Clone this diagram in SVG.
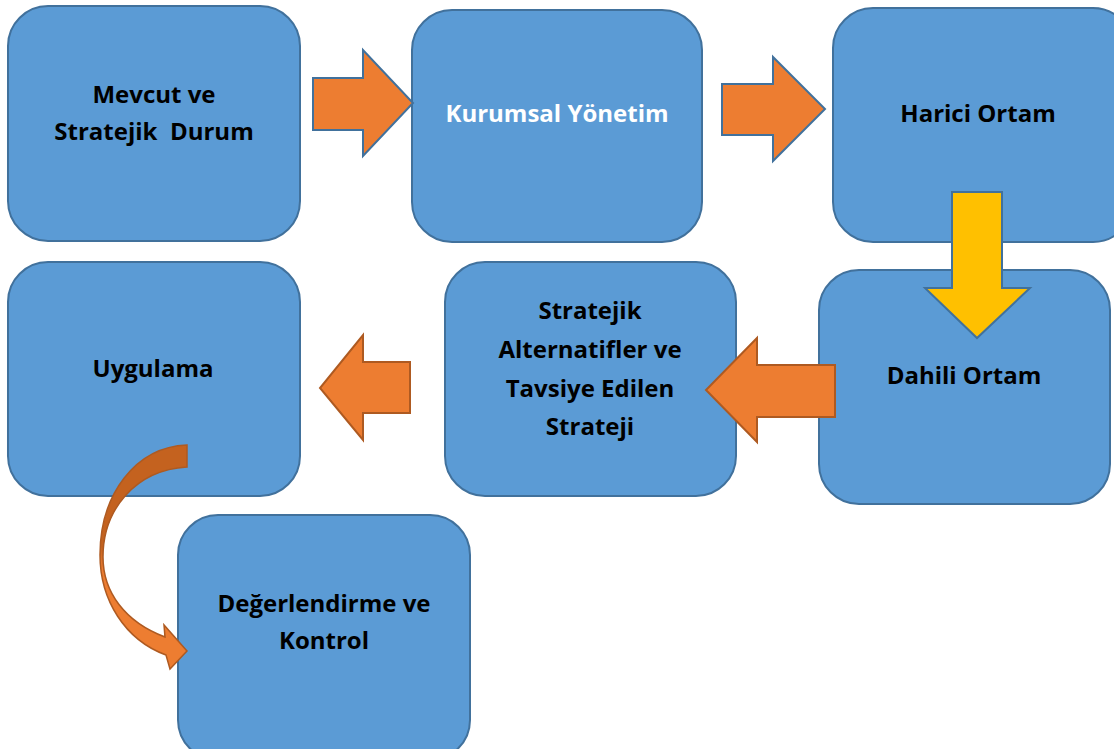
<svg xmlns="http://www.w3.org/2000/svg" width="1114" height="749" viewBox="0 0 1114 749">
<style>
.box{fill:#5B9BD5;stroke:#41719C;stroke-width:2}
.t{font-family:"Open Sans","Noto Sans",sans-serif;font-weight:bold;font-size:24px;fill:#000;text-anchor:middle;dominant-baseline:central}
.w{fill:#fff}
.oa{fill:#ED7D31;stroke:#41719C;stroke-width:2;stroke-linejoin:miter}
.ob{fill:#ED7D31;stroke:#AE5A21;stroke-width:2}
.ya{fill:#FFC000;stroke:#41719C;stroke-width:2}
</style>
<defs>
<linearGradient id="cg" gradientUnits="userSpaceOnUse" x1="0" y1="445" x2="0" y2="670">
<stop offset="0" stop-color="#C4621F"/><stop offset="0.45" stop-color="#C4621F"/><stop offset="0.55" stop-color="#ED7D31"/><stop offset="1" stop-color="#ED7D31"/>
</linearGradient>
</defs>
<rect width="1114" height="749" fill="#fff"/>
<g id="n1"><rect class="box" x="8" y="6" width="292" height="235" rx="40"/>
<text class="t" x="154" y="93">Mevcut ve</text><text class="t" x="154" y="130" xml:space="preserve">Stratejik  Durum</text></g>
<g id="n2"><rect class="box" x="412" y="10" width="290" height="232" rx="40"/>
<text class="t w" x="557" y="112">Kurumsal Yönetim</text></g>
<g id="n3"><rect class="box" x="833" y="8" width="300" height="234" rx="40"/>
<text class="t" x="978" y="112">Harici Ortam</text></g>
<g id="n4"><rect class="box" x="819" y="270" width="291" height="234" rx="40"/>
<text class="t" x="964" y="374">Dahili Ortam</text></g>
<g id="n5"><rect class="box" x="445" y="262" width="291" height="234" rx="40"/>
<text class="t" x="590" y="309">Stratejik</text><text class="t" x="590" y="348">Alternatifler ve</text><text class="t" x="590" y="387">Tavsiye Edilen</text><text class="t" x="590" y="425">Strateji</text></g>
<g id="n6"><rect class="box" x="8" y="262" width="292" height="234" rx="40"/>
<text class="t" x="153" y="367">Uygulama</text></g>
<g id="n7"><rect class="box" x="178" y="515" width="292" height="245" rx="40"/>
<text class="t" x="324" y="602">Değerlendirme ve</text><text class="t" x="324" y="639">Kontrol</text></g>
<g id="connectors">
<polygon class="oa" points="313,78 363,78 363,50 413,103 363,156 363,130 313,130"/>
<polygon class="oa" points="722,84 773,84 773,57 825,109 773,161 773,135 722,135"/>
<polygon class="ya" points="952,192 1002,192 1002,288 1030,288 977,338 925,288 952,288"/>
<polygon class="ob" points="835,365 757,365 757,338 706,390 757,442 757,417 835,417"/>
<polygon class="ob" points="410,362 363,362 363,335 320,388 363,440 363,413 410,413"/>
<path d="M187,445 C135,447 100,495 100,555 C100,600 125,640 166,655 L170,669 L187,651 L164,625 L165,637 C125,622 103,592 103,557 C103,510 135,470 187,467 Z" fill="url(#cg)" stroke="#AE5A21" stroke-width="1.5"/>
</g>
</svg>
